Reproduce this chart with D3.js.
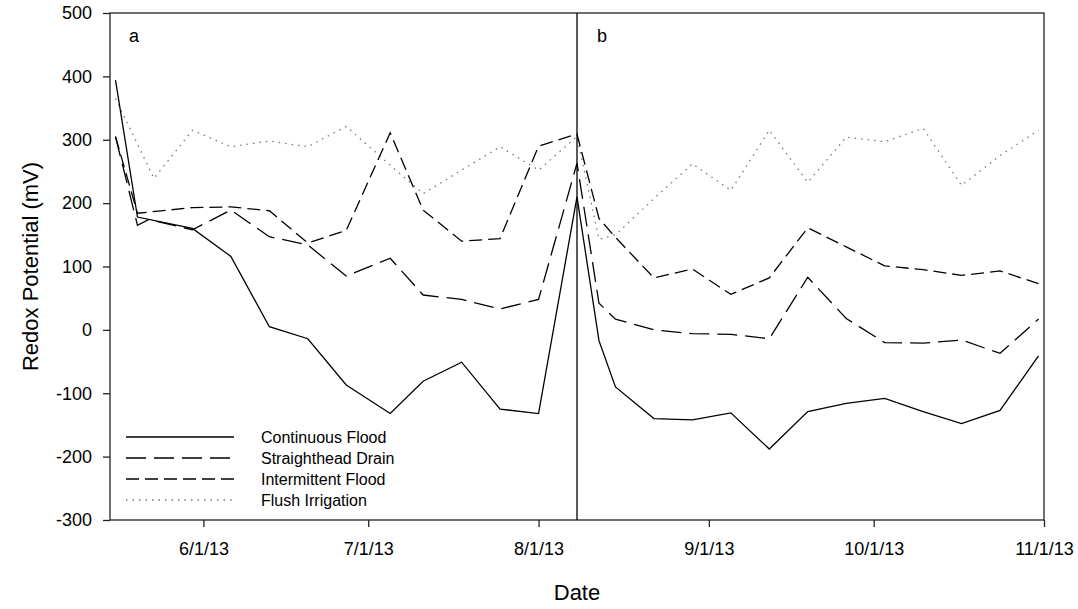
<!DOCTYPE html>
<html>
<head>
<meta charset="utf-8">
<script src="https://cdnjs.cloudflare.com/ajax/libs/d3/7.8.5/d3.min.js"></script>
<style>
  body { margin: 0; background: #fff; }
  svg text { font-family: "Liberation Sans", Arial, sans-serif; fill: #000; }
</style>
</head>
<body>
<div id="vis"></div>
<script>
// sampling dates (null = no reading for that series on that day)
var dates = ["2013-05-16", "2013-05-20", "2013-05-22", "2013-05-23", "2013-05-30",
  "2013-06-06", "2013-06-13", "2013-06-20", "2013-06-27", "2013-07-05", "2013-07-11",
  "2013-07-18", "2013-07-25", "2013-08-01", "2013-08-08", "2013-08-12", "2013-08-15",
  "2013-08-22", "2013-08-29", "2013-09-05", "2013-09-12", "2013-09-19", "2013-09-26",
  "2013-10-03", "2013-10-10", "2013-10-17", "2013-10-24", "2013-10-31"];

var continuousFlood = [394, 178, null, null, 160, 116, 5, -14, -87, -132, -81, -51, -125, -132,
  210, -17, -90, -140, -142, -131, -188, -129, -116, -108, -129, -148, -127, -41];
var straightheadDrain = [305, 165, 174, null, 158, 189, 147, 134, 85, 113, 55, 48, 33, 48,
  263, 42, 17, 0, -6, -7, -14, 83, 18, -20, -21, -16, -37, 17];
var intermittentFlood = [305, 184, null, null, 193, 194, 188, 137, 157, 311, 189, 140, 144, 290,
  309, 176, 146, 82, 96, 56, 82, 161, 131, 101, 95, 86, 93, 73];
var flushIrrigation = [365, null, null, 239, 315, 289, 298, 289, 321, 260, 215, 252, 289, 252,
  305, 143, 150, 207, 262, 220, 315, 233, 304, 297, 318, 228, 275, 315];

var seriesNames = ["Continuous Flood", "Straighthead Drain", "Intermittent Flood", "Flush Irrigation"];
var yTicks = [500, 400, 300, 200, 100, 0, -100, -200, -300];
var xTickDates = ["2013-06-01", "2013-07-01", "2013-08-01", "2013-09-01", "2013-10-01", "2013-11-01"];
var xTickLabels = ["6/1/13", "7/1/13", "8/1/13", "9/1/13", "10/1/13", "11/1/13"];
var xDomain = ["2013-05-15", "2013-11-01"];
var dividerDate = "2013-08-08";
var panelLabels = ["a", "b"];

(function() {
  var parse = d3.utcParse("%Y-%m-%d");
  var left = 110, right = 1044, top = 13, bottom = 520;

  var svg = d3.select("#vis").append("svg")
    .attr("width", 1078)
    .attr("height", 609);

  var x = d3.scaleUtc().domain(xDomain.map(parse)).range([left, right]);
  var y = d3.scaleLinear().domain([-300, 500]).range([bottom, top]);

  var styles = [
    {dash: null, color: "#000", width: 1.3},
    {dash: "20,8", color: "#000", width: 1.3},
    {dash: "13,6", color: "#000", width: 1.3},
    {dash: "1.5,5", color: "#777", width: 1.3}
  ];

  var series = [continuousFlood, straightheadDrain, intermittentFlood, flushIrrigation].map(function(vals, i) {
    return {
      name: seriesNames[i],
      style: styles[i],
      points: vals.map(function(v, j) { return {date: parse(dates[j]), value: v}; })
        .filter(function(p) { return p.value !== null; })
    };
  });

  var line = d3.line()
    .x(function(d) { return x(d.date); })
    .y(function(d) { return y(d.value); });

  // lines, drawn from back to front
  svg.append("g").selectAll("path")
    .data(series.slice().reverse())
    .enter().append("path")
    .attr("d", function(d) { return line(d.points); })
    .attr("fill", "none")
    .attr("stroke", function(d) { return d.style.color; })
    .attr("stroke-width", function(d) { return d.style.width; })
    .attr("stroke-dasharray", function(d) { return d.style.dash; });

  // axes
  svg.append("g")
    .attr("transform", "translate(" + left + ",0)")
    .call(d3.axisLeft(y).tickValues(yTicks).tickSize(7).tickSizeOuter(0).tickPadding(11)
      .tickFormat(function(d) { return String(d); }))
    .call(function(g) {
      g.select(".domain").remove();
      g.selectAll("line").attr("stroke", "#222").attr("stroke-width", 1.3);
      g.selectAll("text").attr("font-size", 18).attr("font-family", null);
    });

  svg.append("g")
    .attr("transform", "translate(0," + bottom + ")")
    .call(d3.axisBottom(x).tickValues(xTickDates.map(parse)).tickSize(7).tickSizeOuter(0).tickPadding(15)
      .tickFormat(function(d, i) { return xTickLabels[i]; }))
    .call(function(g) {
      g.select(".domain").remove();
      g.selectAll("line").attr("stroke", "#222").attr("stroke-width", 1.3);
      g.selectAll("text").attr("font-size", 18).attr("font-family", null);
    });

  // frame
  svg.append("rect")
    .attr("x", left).attr("y", top)
    .attr("width", right - left).attr("height", bottom - top)
    .attr("fill", "none")
    .attr("stroke", "#222")
    .attr("stroke-width", 1.3);

  // divider between the two seasons
  svg.append("line")
    .attr("x1", x(parse(dividerDate))).attr("x2", x(parse(dividerDate)))
    .attr("y1", top).attr("y2", bottom)
    .attr("stroke", "#000")
    .attr("stroke-width", 1.3);

  svg.selectAll(".panel")
    .data(panelLabels)
    .enter().append("text")
    .attr("class", "panel")
    .attr("x", function(d, i) { return i === 0 ? left + 19 : x(parse(dividerDate)) + 20; })
    .attr("y", 42)
    .attr("font-size", 18)
    .text(function(d) { return d; });

  // axis titles
  svg.append("text")
    .attr("x", (left + right) / 2)
    .attr("y", 600)
    .attr("text-anchor", "middle")
    .attr("font-size", 22)
    .text("Date");

  svg.append("text")
    .attr("transform", "translate(38," + (top + bottom) / 2 + ") rotate(-90)")
    .attr("text-anchor", "middle")
    .attr("font-size", 22)
    .text("Redox Potential (mV)");

  // legend
  var legend = svg.append("g").selectAll("g")
    .data(series)
    .enter().append("g")
    .attr("transform", function(d, i) { return "translate(0," + (437 + i * 21) + ")"; });

  legend.append("line")
    .attr("x1", 126).attr("x2", 234)
    .attr("stroke", function(d) { return d.style.color; })
    .attr("stroke-width", function(d) { return d.style.width; })
    .attr("stroke-dasharray", function(d) { return d.style.dash; });

  legend.append("text")
    .attr("x", 261)
    .attr("dy", "0.35em")
    .attr("font-size", 16)
    .text(function(d) { return d.name; });
}());
</script>
</body>
</html>
